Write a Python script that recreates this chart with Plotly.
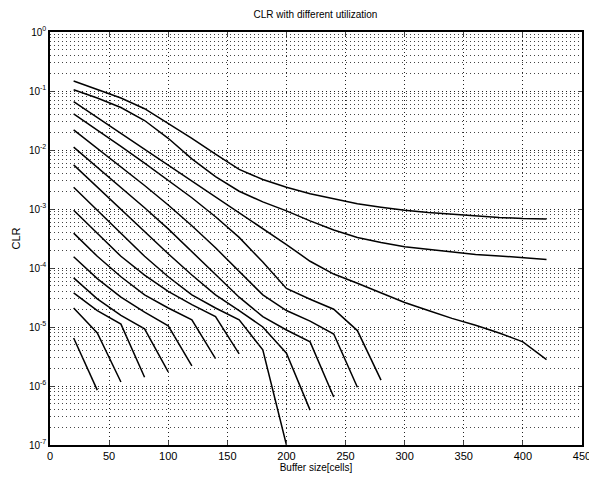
import plotly.graph_objects as go

# Buffer sizes (cells) at which CLR was evaluated
buffer_sizes = [20, 40, 60, 80, 100, 120, 140, 160, 180, 200, 220, 240, 260,
                280, 300, 320, 340, 360, 380, 400, 420]

# CLR curves, from highest utilization (top) to lowest (bottom)
clr_1 = [0.148, 0.107, 0.0759, 0.0501, 0.0282, 0.0158, 0.00851, 0.00468, 0.00316,
         0.00234, 0.00182, 0.00148, 0.00123, 0.00107, 9.5e-4, 8.7e-4, 8.1e-4,
         7.6e-4, 7.2e-4, 6.9e-4, 6.8e-4]
clr_2 = [0.105, 0.0759, 0.0525, 0.0316, 0.0158, 0.00708, 0.00355, 0.00200, 0.00132,
         9.3e-4, 6.3e-4, 4.4e-4, 3.3e-4, 2.7e-4, 2.3e-4, 2.1e-4, 1.9e-4, 1.7e-4,
         1.6e-4, 1.5e-4, 1.4e-4]
clr_3 = [0.066, 0.0355, 0.019, 0.0102, 0.0056, 0.0030, 0.00162, 8.7e-4, 4.7e-4,
         2.5e-4, 1.3e-4, 7.9e-5, 5.5e-5, 3.8e-5, 2.6e-5, 1.9e-5, 1.4e-5, 1.07e-5,
         7.9e-6, 5.6e-6, 2.8e-6]
clr_4 = [0.041, 0.022, 0.0115, 0.0060, 0.0031, 0.00155, 7.4e-4, 3.3e-4, 1.26e-4,
         4.5e-5, 2.95e-5, 2.0e-5, 8.7e-6, 1.26e-6]
clr_5 = [0.022, 0.0107, 0.0052, 0.0025, 0.00117, 5.2e-4, 2.2e-4, 8.9e-5, 3.5e-5,
         1.9e-5, 1.26e-5, 7.6e-6, 9.5e-7]
clr_6 = [0.0112, 0.0051, 0.0023, 0.00105, 4.6e-4, 1.9e-4, 7.6e-5, 3.2e-5, 1.5e-5,
         8.9e-6, 5.6e-6, 6.5e-7]
clr_7 = [0.0056, 0.00234, 0.0010, 4.2e-4, 1.74e-4, 7.6e-5, 3.5e-5, 1.9e-5, 1.0e-5,
         3.6e-6, 3.9e-7]
clr_8 = [0.00234, 9.5e-4, 3.8e-4, 1.58e-4, 7.1e-5, 3.5e-5, 2.1e-5, 1.32e-5, 4.1e-6,
         1.0e-7]
clr_9 = [9.5e-4, 3.8e-4, 1.58e-4, 7.6e-5, 4.0e-5, 2.4e-5, 1.5e-5, 3.5e-6]
clr_10 = [3.9e-4, 1.58e-4, 7.1e-5, 3.5e-5, 2.1e-5, 1.32e-5, 2.9e-6]
clr_11 = [1.55e-4, 6.6e-5, 3.2e-5, 1.78e-5, 1.05e-5, 2.2e-6]
clr_12 = [6.8e-5, 3.0e-5, 1.58e-5, 9.3e-6, 1.74e-6]
clr_13 = [3.8e-5, 1.9e-5, 1.12e-5, 1.41e-6]
clr_14 = [2.1e-5, 7.9e-6, 1.17e-6]
clr_15 = [6.5e-6, 8.5e-7]

curves = [clr_1, clr_2, clr_3, clr_4, clr_5, clr_6, clr_7, clr_8, clr_9, clr_10,
          clr_11, clr_12, clr_13, clr_14, clr_15]

x_ticks = [0, 50, 100, 150, 200, 250, 300, 350, 400, 450]
y_ticks = [1e-7, 1e-6, 1e-5, 1e-4, 1e-3, 1e-2, 1e-1, 1]
y_tick_text = ["10<sup>-7</sup>", "10<sup>-6</sup>", "10<sup>-5</sup>", "10<sup>-4</sup>",
               "10<sup>-3</sup>", "10<sup>-2</sup>", "10<sup>-1</sup>", "10<sup>0</sup>"]

fig = go.Figure()
for vals in curves:
    fig.add_trace(go.Scatter(x=buffer_sizes[:len(vals)], y=vals, mode="lines",
                             line=dict(color="black", width=1.5),
                             showlegend=False, hoverinfo="skip"))

font = dict(family="Liberation Sans, Arial, sans-serif", size=10, color="black")
grid_dash = "1px,3px"

# the page body has an 8px default margin, so the figure is sized to fit the window
fig.update_layout(
    width=589, height=479,
    margin=dict(l=42, r=15, t=24, b=42),
    paper_bgcolor="white", plot_bgcolor="white",
    font=font,
    title=dict(text="CLR with different utilization", x=0.522, xanchor="center",
               y=0.993, yanchor="top", font=dict(size=10)),
)
fig.update_xaxes(
    range=[0, 450], tickvals=x_ticks, ticks="inside", ticklen=4,
    showline=True, linecolor="black", linewidth=1.5, mirror="ticks",
    showgrid=True, gridcolor="#222", griddash=grid_dash, gridwidth=1,
    zeroline=False, automargin=False,
    title=dict(text="Buffer size[cells]", standoff=2, font=dict(size=10)),
    tickfont=dict(size=11),
)
fig.update_yaxes(
    type="log", range=[-7, 0], tickvals=y_ticks, ticktext=y_tick_text,
    ticks="inside", ticklen=4,
    showline=True, linecolor="black", linewidth=1.5, mirror="ticks",
    showgrid=True, gridcolor="#222", griddash=grid_dash, gridwidth=1,
    minor=dict(showgrid=True, gridcolor="#444", griddash=grid_dash, gridwidth=1,
               dtick="D1", ticks=""),
    zeroline=False, automargin=False,
    title=dict(text="CLR", standoff=6, font=dict(size=11)),
    tickfont=dict(size=10),
)

fig.write_html("out.html")
